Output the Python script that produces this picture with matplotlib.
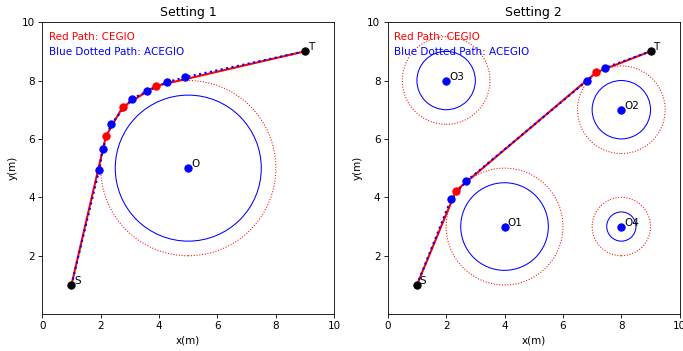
import matplotlib
matplotlib.use("Agg")
import matplotlib.pyplot as plt
from matplotlib.patches import Circle

start = (1, 1)
goal = (9, 9)

# Setting 1: one obstacle
obs1_names = ["O"]
obs1_centers = [(5, 5)]
obs1_radius = [2.5]
obs1_safe = [3.0]
red1_x = [1, 2.18, 2.75, 3.88, 9]
red1_y = [1, 6.09, 7.09, 7.81, 9]
blue1_x = [1, 1.95, 2.07, 2.35, 3.06, 3.59, 4.26, 4.88, 9]
blue1_y = [1, 4.94, 5.64, 6.50, 7.37, 7.63, 7.94, 8.11, 9]

# Setting 2: four obstacles
obs2_names = ["O1", "O2", "O3", "O4"]
obs2_centers = [(4, 3), (8, 7), (2, 8), (8, 3)]
obs2_radius = [1.5, 1.0, 1.0, 0.5]
obs2_safe = [2.0, 1.5, 1.5, 1.0]
red2_x = [1, 2.34, 7.14, 9]
red2_y = [1, 4.23, 8.28, 9]
blue2_x = [1, 2.17, 2.69, 6.83, 7.43, 9]
blue2_y = [1, 3.94, 4.55, 8.00, 8.43, 9]

settings = [
    ("Setting 1", obs1_names, obs1_centers, obs1_radius, obs1_safe, red1_x, red1_y, blue1_x, blue1_y),
    ("Setting 2", obs2_names, obs2_centers, obs2_radius, obs2_safe, red2_x, red2_y, blue2_x, blue2_y),
]

fig, axes = plt.subplots(1, 2, figsize=(683 / 75, 351 / 75), dpi=75)

for ax, (title, names, centers, radius, safe, rx, ry, bx, by) in zip(axes, settings):
    # obstacles: real radius (solid blue) and safety margin (dotted red)
    for name, c, r, s in zip(names, centers, radius, safe):
        ax.add_patch(Circle(c, r, fill=False, color="blue", linewidth=1))
        ax.add_patch(Circle(c, s, fill=False, color="red", linestyle=":", linewidth=1))
        ax.plot(c[0], c[1], "o", color="blue", markersize=7)
        ax.text(c[0] + 0.1, c[1] + 0.03, name, fontsize=10)

    ax.plot(rx, ry, "-", color="red", linewidth=2)
    ax.plot(bx, by, ":", color="blue", linewidth=2)
    ax.plot(rx[1:-1], ry[1:-1], "o", color="red", markersize=7)
    ax.plot(bx[1:-1], by[1:-1], "o", color="blue", markersize=7)

    ax.plot(*start, "o", color="black", markersize=7)
    ax.plot(*goal, "o", color="black", markersize=7)
    ax.text(start[0] + 0.1, start[1] + 0.03, "S", fontsize=10)
    ax.text(goal[0] + 0.1, goal[1] + 0.03, "T", fontsize=10)

    ax.text(0.022, 0.938, "Red Path: CEGIO", color="red", fontsize=10, transform=ax.transAxes)
    ax.text(0.022, 0.887, "Blue Dotted Path: ACEGIO", color="blue", fontsize=10, transform=ax.transAxes)

    ax.set_xlim(0, 10)
    ax.set_ylim(0, 10)
    ax.set_yticks([2, 4, 6, 8, 10])
    ax.set_aspect("equal")
    ax.set_title(title)
    ax.set_xlabel("x(m)")
    ax.set_ylabel("y(m)")

plt.subplots_adjust(left=0.0615, right=0.9956, bottom=0.105, top=0.937, wspace=0.181)
plt.savefig("out.png")
